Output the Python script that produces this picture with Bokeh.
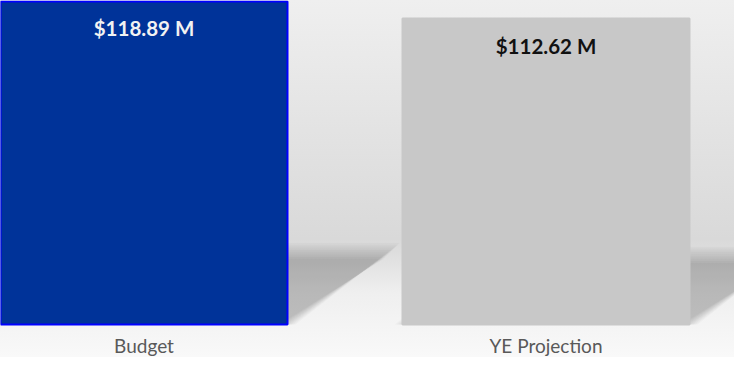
from bokeh.plotting import figure
from bokeh.models import Range1d, ColumnDataSource
from bokeh.core.properties import value
from bokeh.embed import file_html
from bokeh.resources import INLINE

# ---- data ----
categories = ["Budget", "YE Projection"]
values = [118.89, 112.62]
value_labels = ["$118.89 M", "$112.62 M"]

# ---- styles ----
bar_colors = ["#003399", "#c8c8c8"]
outline_colors = ["#0000ff", "#c8c8c8"]
label_colors = ["#f2f2f2", "#111111"]

W, H = 734, 357
AXIS_H = 33
FRAME_H = H - AXIS_H
PX_PER_X = 402.0
X0_PX = 143.5
BAR_PX = 287.0
SHADOW_H_FRAC = 0.228
SHADOW_DX_FRAC = 0.324
BLUR_PX = 8.0
N_LAYERS = 10

xs = list(range(len(categories)))
ymax = max(values)
y_end = ymax * (1 + 1.0 / FRAME_H)
px_per_y = FRAME_H / y_end
y_start = -AXIS_H / px_per_y
x_start = -X0_PX / PX_PER_X
x_end = x_start + W / PX_PER_X
bar_w = BAR_PX / PX_PER_X

p = figure(width=W, height=H, output_backend="svg", toolbar_location=None,
           x_range=Range1d(x_start, x_end), y_range=Range1d(y_start, y_end),
           min_border_left=0, min_border_right=0, min_border_top=0,
           min_border_bottom=0)

p.background_fill_color = None
p.border_fill_color = None
p.outline_line_color = None
p.styles = {"background": "linear-gradient(to bottom, #efefef 0%, #d9d9d9 67%, "
                          "#dedede 71%, #efefef 82%, #f9f9f9 100%)"}
p.grid.visible = False
p.xaxis.visible = False
p.yaxis.visible = False

# ---- soft shadows (derived from bar data) ----
sh_xs, sh_ys = [], []
for x, v in zip(xs, values):
    h_px = v * px_per_y
    sh_h = SHADOW_H_FRAC * v
    dx = SHADOW_DX_FRAC * h_px / PX_PER_X
    xl = x - bar_w / 2
    xr = x + bar_w / 2
    for k in range(N_LAYERS):
        e = BLUR_PX * (2.0 * k / (N_LAYERS - 1) - 1.0)
        ex = e / PX_PER_X
        ey = e / px_per_y
        sh_xs.append([xl - ex, xr + ex, xr + dx + ex, xl + dx - ex])
        sh_ys.append([0, 0, sh_h + ey, sh_h + ey])
p.patches(xs=sh_xs, ys=sh_ys, fill_color="#000000", fill_alpha=0.022, line_color=None)

# ---- bars ----
src = ColumnDataSource(dict(x=xs, top=values, fill=bar_colors, line=outline_colors,
                            label=value_labels, lcol=label_colors,
                            cat=categories, base=[0] * len(xs)))
p.vbar(x="x", top="top", bottom=0, width=bar_w, fill_color="fill", line_color="line",
       line_width=2, source=src)

p.text(x="x", y="top", text="label", text_color="lcol", text_align="center",
       text_baseline="middle", y_offset=27, text_font=value("Lato"),
       text_font_style="bold", text_font_size="20.5px", source=src)

# ---- category labels ----
p.text(x="x", y="base", text="cat", text_color="#595959", text_align="center",
       text_baseline="middle", y_offset=21, text_font=value("Lato"),
       text_font_size="19px", source=src)

open("out.html", "w").write(file_html(p, INLINE))
